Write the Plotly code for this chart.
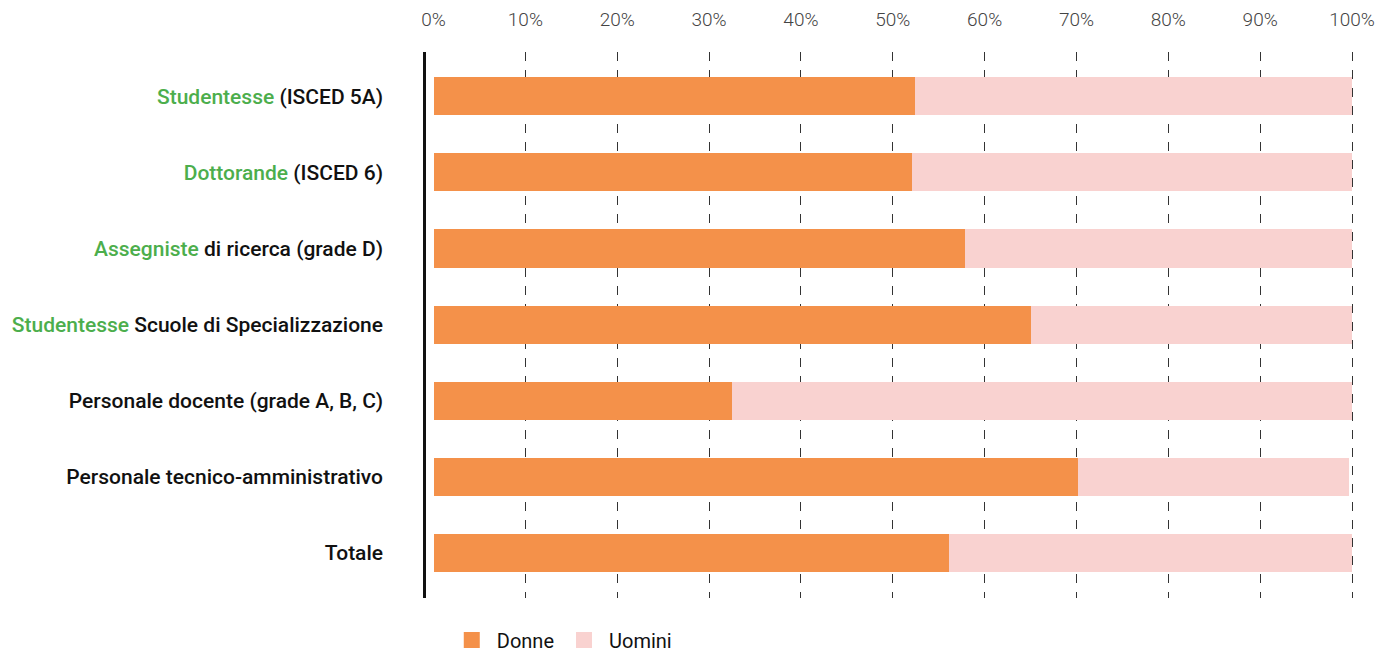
import plotly.graph_objects as go

GREEN = "#4cae4c"
categories = [
    f'<span style="color:{GREEN}">Studentesse</span> (ISCED 5A)',
    f'<span style="color:{GREEN}">Dottorande</span> (ISCED 6)',
    f'<span style="color:{GREEN}">Assegniste</span> di ricerca (grade D)',
    f'<span style="color:{GREEN}">Studentesse</span> Scuole di Specializzazione',
    'Personale docente (grade A, B, C)',
    'Personale tecnico-amministrativo',
    'Totale',
]
donne = [52.4, 52.1, 57.9, 65.1, 32.5, 70.2, 56.1]
uomini = [47.6, 47.9, 42.1, 34.9, 67.5, 29.5, 43.9]
x_ticks = [0, 10, 20, 30, 40, 50, 60, 70, 80, 90, 100]
x_ticktext = [f"{v}%" for v in x_ticks]

ORANGE = "#f4914a"
PINK = "#f9d2d0"

fig = go.Figure()
fig.add_trace(go.Bar(y=list(range(len(categories))), x=donne, orientation="h",
                     marker=dict(color=ORANGE, line=dict(width=0)), width=0.5,
                     name="Donne", showlegend=False))
fig.add_trace(go.Bar(y=list(range(len(categories))), x=uomini, orientation="h",
                     marker=dict(color=PINK, line=dict(width=0)), width=0.5,
                     name="Uomini", showlegend=False))
# legend-only entries with larger square swatches
fig.add_trace(go.Scatter(x=[None], y=[None], mode="markers", name="Donne",
                         marker=dict(symbol="square", size=22, color=ORANGE)))
fig.add_trace(go.Scatter(x=[None], y=[None], mode="markers", name="Uomini",
                         marker=dict(symbol="square", size=22, color=PINK)))

fig.update_layout(
    barmode="stack",
    width=1380, height=644,
    margin=dict(l=418, r=18, t=44, b=54, autoexpand=False),
    plot_bgcolor="white", paper_bgcolor="white",
    font=dict(family="Roboto", size=17, color="#111"),
    legend=dict(orientation="h", x=0.022, xanchor="left", y=-0.077, yanchor="middle",
                traceorder="normal",
                font=dict(size=20, color="#111"), itemwidth=40, tracegroupgap=0),
    xaxis=dict(range=[-0.82, 101.96], side="top", tickvals=x_ticks, ticktext=x_ticktext,
               showgrid=True, gridcolor="#333", griddash="dash", gridwidth=1.3,
               zeroline=True, zerolinecolor="rgba(0,0,0,0)", zerolinewidth=0.1,
               showline=False, ticks="", ticklabelstandoff=21, automargin=False,
               tickfont=dict(size=19, color="#444", weight=300), fixedrange=True),
    yaxis=dict(range=[6.59, -0.58], tickvals=list(range(len(categories))), ticktext=categories,
               showgrid=False, zeroline=False, showline=True, linecolor="#111", linewidth=2.5,
               ticks="", ticklabelstandoff=36, automargin=False,
               tickfont=dict(size=21, color="#111", weight=500), fixedrange=True),
)

fig.write_html("out.html")
